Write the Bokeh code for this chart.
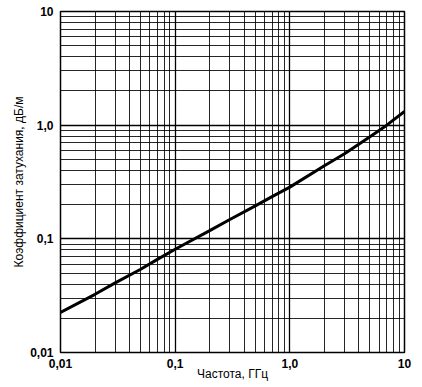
from bokeh.plotting import figure
from bokeh.models import FixedTicker, Range1d
from bokeh.embed import file_html
from bokeh.resources import INLINE

freq = [0.01, 0.02, 0.03, 0.05, 0.07, 0.1, 0.2, 0.3, 0.5, 0.7, 1.0, 2.0, 3.0, 5.0, 7.0, 10.0]
atten = [0.0225, 0.0325, 0.041, 0.054, 0.066, 0.081, 0.118, 0.148, 0.195, 0.235,
         0.285, 0.44, 0.56, 0.79, 1.0, 1.32]

major_ticks = [0.01, 0.1, 1.0, 10.0]
tick_labels = ["0,01", "0,1", "1,0", "10"]
minor_ticks = [m * d for d in [0.01, 0.1, 1.0] for m in range(2, 10)]

p = figure(width=422, height=387, x_axis_type="log", y_axis_type="log",
           x_range=Range1d(0.01, 10), y_range=Range1d(0.01, 10),
           output_backend="svg", toolbar_location=None,
           min_border_left=60, min_border_right=18, min_border_top=11, min_border_bottom=35)

for ax in (p.xaxis[0], p.yaxis[0]):
    ax.ticker = FixedTicker(ticks=major_ticks, minor_ticks=minor_ticks)
    ax.major_label_overrides = {t: l for t, l in zip(major_ticks, tick_labels)}
    ax.major_tick_line_color = None
    ax.minor_tick_line_color = None
    ax.axis_line_color = "black"
    ax.major_label_text_font = "Liberation Sans"
    ax.major_label_text_font_size = "12px"
    ax.major_label_text_font_style = "bold"
    ax.major_label_text_color = "black"
    ax.axis_label_text_font = "Liberation Sans"
    ax.axis_label_text_font_size = "12px"
    ax.axis_label_text_font_style = "normal"
    ax.axis_label_text_color = "black"

p.yaxis.major_label_standoff = 1
p.xaxis.major_label_standoff = 0
p.yaxis.axis_label = "Коэффициент затухания, дБ/м"
p.yaxis.axis_label_standoff = 1
p.xaxis.axis_label = "Частота, ГГц"
p.xaxis.axis_label_standoff = -4

for g in (p.xgrid[0], p.ygrid[0]):
    g.grid_line_color = "black"
    g.grid_line_width = 1.3
    g.grid_line_alpha = 1.0
    g.minor_grid_line_color = "black"
    g.minor_grid_line_width = 1.0
    g.minor_grid_line_alpha = 0.85

p.outline_line_color = "black"
p.outline_line_width = 1.5
p.background_fill_color = "white"
p.border_fill_color = "white"

p.line(freq, atten, line_color="black", line_width=3)

open("out.html", "w").write(file_html(p, INLINE))
